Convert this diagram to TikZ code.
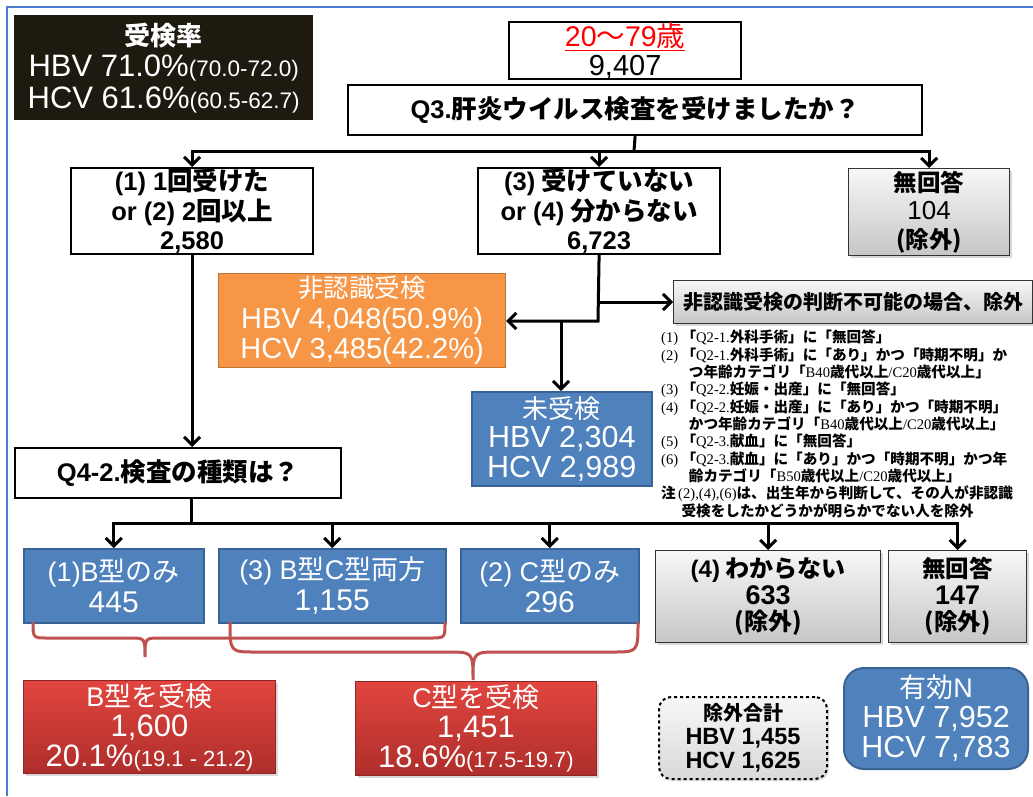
\documentclass[tikz,border=0pt]{standalone}
\usepackage{fontspec}
\setmainfont{Noto Sans CJK JP}
\newfontfamily\lat{Liberation Sans}
\newfontfamily\ser{Liberation Serif}
\usetikzlibrary{arrows.meta,shadows}
\definecolor{frameblue}{HTML}{4A7CCF}
\definecolor{boxblue}{HTML}{4F81BD}
\definecolor{boxbluedk}{HTML}{3A6395}
\definecolor{orangeF}{HTML}{F79646}
\definecolor{orangeD}{HTML}{C0742F}
\definecolor{redT}{HTML}{E2453F}
\definecolor{redB}{HTML}{AE2E2B}
\definecolor{redD}{HTML}{8E2623}
\definecolor{braceC}{HTML}{C0504D}
\definecolor{grayT}{HTML}{F7F7F7}
\definecolor{grayB}{HTML}{C6C6C6}
\definecolor{darkbox}{HTML}{1E1A10}
\newcommand\fs[2]{\fontsize{#1}{#2}\selectfont}
\newcommand\sr[1]{{\ser\mdseries #1}}
\tikzset{
 base/.style={anchor=north west, inner sep=0pt, align=center},
 wbox/.style={base, draw=black, line width=2.2pt, fill=white, font=\bfseries\fs{25.5}{29.5}},
 gbox/.style={base, draw=black!80, line width=1.3pt, top color=grayT, bottom color=grayB, drop shadow={shadow xshift=2pt, shadow yshift=-2pt, opacity=0.3}, font=\bfseries\fs{24}{28}},
 bbox/.style={base, draw=boxbluedk, line width=1.5pt, fill=boxblue, text=white},
 obox/.style={base, draw=orangeD, line width=1.2pt, fill=orangeF, text=white},
 rbox/.style={base, draw=redD, line width=1pt, top color=redT, bottom color=redB, text=white, drop shadow={shadow xshift=2pt, shadow yshift=-2pt, opacity=0.3}},
 conn/.style={line width=3pt, black},
 arr/.style={conn, -{Straight Barb[length=8pt,width=16pt]}},
 brace/.style={draw=braceC, line width=3pt},
}
\begin{document}
\begin{tikzpicture}[x=1pt,y=-1pt]
\useasboundingbox (0,0) rectangle (1033,796);
\fill[white] (0,0) rectangle (1033,796);
\draw[frameblue, line width=2pt] (7,796) -- (7,7) -- (1033,7);

% top left rate box
\node[base, fill=darkbox, minimum width=299pt, minimum height=105pt, text=white, font=\fs{31}{31.5}] (rate) at (14,15)
 {{\bfseries\fs{26}{31.5}受検率}\\{\lat HBV 71.0\%}{\lat\fs{22.5}{31.5}(70.0-72.0)}\\{\lat HCV 61.6\%}{\lat\fs{22.5}{31.5}(60.5-62.7)}};

% top
\node[base, draw=black, line width=2.2pt, fill=white, minimum width=232pt, minimum height=55pt, font=\fs{28.5}{29}] (top) at (508,21)
 {{\color{red}\underline{{\lat 20}〜{\lat 79}歳}}\\{\lat\fs{29}{29}9,407}};
\node[wbox, minimum width=574pt, minimum height=50pt] (q3) at (347,84) {{\lat Q3.}肝炎ウイルス検査を受けましたか？};

\node[wbox, minimum width=242pt, minimum height=86pt] (c1) at (70,167) {{\lat (1) 1}回受けた\\{\lat or (2) 2}回以上\\{\lat 2,580}};
\node[wbox, minimum width=242pt, minimum height=86pt] (c2) at (477,167) {{\lat (3)} 受けていない\\{\lat or (4)} 分からない\\{\lat 6,723}};
\node[gbox, font=\bfseries\fs{23.5}{28.5}, minimum width=161pt, minimum height=87pt] (c3) at (848,168) {無回答\\{\lat\mdseries\fs{26}{28.5}104}\\(除外)};

\node[obox, minimum width=287pt, minimum height=94pt, font=\fs{29}{30.5}] (orange) at (218,273)
 {{\fs{25.5}{30.5}非認識受検}\\{\lat HBV 4,048(50.9\%)}\\{\lat HCV 3,485(42.2\%)}};
\node[bbox, minimum width=180pt, minimum height=94pt, font=\fs{30.5}{29.5}] (mi) at (471,391)
 {{\fs{26}{29.5}未受検}\\{\lat HBV 2,304}\\{\lat HCV 2,989}};
\node[gbox, minimum width=359pt, minimum height=43pt, font=\bfseries\fs{20}{24}] (excl) at (673,280) {非認識受検の判断不可能の場合、除外};

\node[anchor=north west, inner sep=0pt, align=left, font=\bfseries\fs{14.6}{17.35}] (notes) at (661,330) {%
\sr{(1)}\ 「\sr{Q2-1.}外科手術」に「無回答」\\
\sr{(2)}\ 「\sr{Q2-1.}外科手術」に「あり」かつ「時期不明」か\\
\hspace*{1.9em}つ年齢カテゴリ「\sr{B40}歳代以上\sr{/C20}歳代以上」\\
\sr{(3)}\ 「\sr{Q2-2.}妊娠・出産」に「無回答」\\
\sr{(4)}\ 「\sr{Q2-2.}妊娠・出産」に「あり」かつ「時期不明」\\
\hspace*{1.9em}かつ年齢カテゴリ「\sr{B40}歳代以上\sr{/C20}歳代以上」\\
\sr{(5)}\ 「\sr{Q2-3.}献血」に「無回答」\\
\sr{(6)}\ 「\sr{Q2-3.}献血」に「あり」かつ「時期不明」かつ年\\
\hspace*{1.9em}齢カテゴリ「\sr{B50}歳代以上\sr{/C20}歳代以上」\\
注\sr{\,(2),(4),(6)}は、出生年から判断して、その人が非認識\\
\hspace*{1.4em}受検をしたかどうかが明らかでない人を除外};

\node[wbox, minimum width=326pt, minimum height=50pt] (q4) at (14,447) {{\lat Q4-2.}検査の種類は？};

\node[bbox, minimum width=180pt, minimum height=74pt, font=\fs{27}{31}] (r1) at (23,548) {{\lat (1)B}型のみ\\{\lat\fs{30}{31}445}};
\node[bbox, minimum width=227pt, minimum height=74pt, font=\fs{27}{31}] (r2) at (218,548) {{\lat (3) B}型{\lat C}型両方\\{\lat\fs{30}{31}1,155}};
\node[bbox, minimum width=178pt, minimum height=74pt, font=\fs{27}{31}] (r3) at (460,548) {{\lat (2) C}型のみ\\{\lat\fs{30}{31}296}};
\node[gbox, minimum width=225pt, minimum height=92pt, font=\bfseries\fs{24}{26.5}] (r4) at (655,550) {{\lat (4)} わからない\\{\lat\fs{27}{26.5}633}\\(除外)};
\node[gbox, minimum width=138pt, minimum height=92pt, font=\bfseries\fs{23.5}{26.5}] (r5) at (888,550) {無回答\\{\lat\fs{27}{26.5}147}\\(除外)};

% braces
\draw[brace] (33,622) .. controls (33,638) .. (48,638) -- (130,638) .. controls (145,638) .. (145,657) .. controls (145,638) .. (160,638) -- (430,638) .. controls (445,638) .. (445,622);
\draw[brace] (230,622) .. controls (230,652) .. (256,652) -- (447,652) .. controls (473,652) .. (473,680) .. controls (473,652) .. (499,652) -- (612,652) .. controls (638,652) .. (638,622);

\node[rbox, minimum width=252pt, minimum height=93pt, font=\fs{27}{30}] (rb) at (23,680)
 {{\lat B}型を受検\\{\lat\fs{31}{30}1,600}\\{\lat\fs{31}{30}20.1\%}{\lat\fs{22}{30}(19.1 - 21.2)}};
\node[rbox, minimum width=241pt, minimum height=94pt, font=\fs{27}{30}] (rc) at (355,681)
 {{\lat C}型を受検\\{\lat\fs{31}{30}1,451}\\{\lat\fs{31}{30}18.6\%}{\lat\fs{22}{30}(17.5-19.7)}};

\node[base, draw=black, dashed, line width=2pt, rounded corners=12pt, top color=grayT, bottom color=black!15, minimum width=168pt, minimum height=82pt, font=\bfseries\fs{23.5}{24}, drop shadow={shadow xshift=2pt, shadow yshift=-2pt, opacity=0.25}] (tot) at (658,696)
 {{\fs{20}{24}除外合計}\\{\lat HBV 1,455}\\{\lat HCV 1,625}};
\node[bbox, rounded corners=20pt, line width=2pt, minimum width=184pt, minimum height=101pt, font=\fs{30.5}{30}] (eff) at (843,667)
 {{\fs{27}{30}有効{\lat N}}\\{\lat HBV 7,952}\\{\lat HCV 7,783}};

% connectors
\coordinate (j1) at (634,151);
\draw[conn] (q3.south) -- (j1);
\draw[arr] (j1) -| (c1.north);
\draw[arr] (j1) -| (c2.north);
\draw[arr] (j1) -| (c3.north);
\draw[arr] (c1.south) -- (c1.south |- q4.north);
\coordinate (k1) at (598,302);
\coordinate (k2) at (598,321);
\coordinate (k3) at (561,321);
\draw[arr] (c2.south) -- (k2) -- (k2 -| orange.east);
\draw[arr] (k1) -- (k1 -| excl.west);
\draw[arr] (k3) -- (k3 |- mi.north);
\coordinate (m) at (191,523);
\draw[conn] (m |- q4.south) -- (m);
\draw[arr] (m) -| (r1.north);
\draw[arr] (m) -| (r2.north);
\draw[arr] (m) -| (r3.north);
\draw[arr] (m) -| (r4.north);
\draw[arr] (m) -| (r5.north);
\end{tikzpicture}
\end{document}
